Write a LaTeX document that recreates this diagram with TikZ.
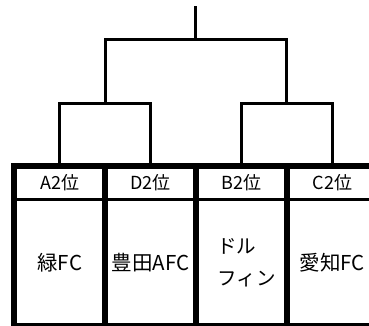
\documentclass[tikz,border=0pt]{standalone}
\usepackage{fontspec}
\setmainfont{Noto Sans CJK JP}
\usetikzlibrary{positioning}

\begin{document}
\begin{tikzpicture}[x=1pt,y=-1pt,
  head/.style={minimum width=90.5pt,minimum height=33pt,inner sep=0pt,font=\fontsize{18}{21}\selectfont},
  team/.style={minimum width=90.5pt,minimum height=126pt,inner sep=0pt,font=\fontsize{20.5}{32}\selectfont},
  frame/.style={line width=6pt},
  bracket/.style={line width=3pt}]
\useasboundingbox (0,0) rectangle (369,325);
\node (hA) [head] at (59.75,182.5) {A2位};
\node (hD) [head, right=0pt of hA] {D2位};
\node (hB) [head, right=0pt of hD] {B2位};
\node (hC) [head, right=0pt of hB] {C2位};
\node (tA) [team, below=0pt of hA] {緑FC};
\node (tD) [team, below=0pt of hD] {豊田AFC};
\node (tB) [team, below=0pt of hB] {};
\node (tBname) [font=\fontsize{19.5}{32}\selectfont, align=left, xshift=5pt] at (tB) {ドル\\フィン};
\node (tC) [team, below=0pt of hC] {愛知FC};
% table
\draw [frame] (tA.south west) -- (hA.north west) -- (hC.north east);
\draw [frame] (hD.north west) -- (tD.south west);
\draw [frame] (hB.north west) -- (tB.south west);
\draw [frame] (hC.north west) -- (tC.south west);
\draw [frame] (tA.south west) -- (tC.south east);
\draw [bracket] (hA.south west) -- (hC.south east);
% bracket
\coordinate (L) at (105,103.5);
\coordinate (R) at (286,103.5);
\coordinate (top) at (195.5,39);
\coordinate (win) at (195.5,6);
\draw [bracket] (hA.north) |- (L) -| (hD.north);
\draw [bracket] (hB.north) |- (R) -| (hC.north);
\draw [bracket] (L) |- (top) -| (R);
\draw [bracket] (top) -- (win);
\end{tikzpicture}
\end{document}
